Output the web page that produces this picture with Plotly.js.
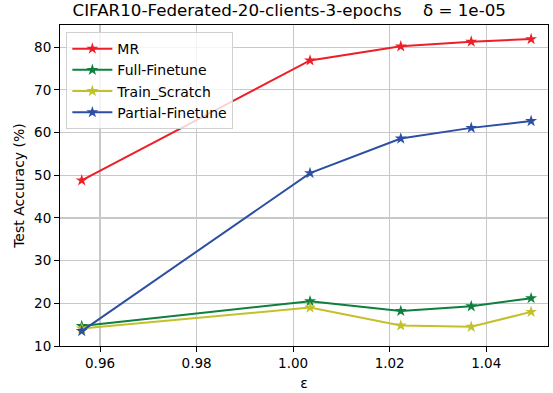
<!DOCTYPE html>
<html><head><meta charset="utf-8">
<script src="https://cdn.plot.ly/plotly-3.0.1.min.js"></script>
<style>html,body{margin:0;padding:0;background:#fff}#chart{width:553px;height:393px}</style>
</head><body><div id="chart"></div>
<script>
const epsilon = [0.9562, 1.0035, 1.0223, 1.0369, 1.0493];
const mr = [48.8, 76.9, 80.2, 81.3, 81.9];
const fullFinetune = [14.7, 20.5, 18.2, 19.3, 21.2];
const trainScratch = [14.1, 19.0, 14.8, 14.5, 18.0];
const partialFinetune = [13.5, 50.5, 58.6, 61.1, 62.7];
const seriesNames = ["MR", "Full-Finetune", "Train_Scratch", "Partial-Finetune"];
const colors = ["#ec1f28", "#0e7f3e", "#c2c12c", "#2c4fa3"];
const ys = [mr, fullFinetune, trainScratch, partialFinetune];
const xTicks = [0.96, 0.98, 1.00, 1.02, 1.04];
const xTickText = ["0.96", "0.98", "1.00", "1.02", "1.04"];
const yTicks = [10, 20, 30, 40, 50, 60, 70, 80];

const traces = ys.map((y, i) => ({
  x: epsilon, y: y, name: seriesNames[i], type: "scatter", mode: "lines+markers",
  line: {color: colors[i], width: 2},
  marker: {symbol: "star", size: 9, color: colors[i], line: {width: 0}}
}));

const layout = {
  width: 553, height: 393,
  margin: {l: 60, r: 5, t: 25, b: 47},
  paper_bgcolor: "#fff", plot_bgcolor: "#fff",
  font: {family: "DejaVu Sans", size: 14, color: "#000"},
  title: {text: "CIFAR10-Federated-20-clients-3-epochs    δ = 1e-05", x: 0.523, xanchor: "center", y: 0.988, yanchor: "top", font: {size: 16.7, family: "DejaVu Sans"}},
  xaxis: {
    range: [0.9517, 1.0528], tickvals: xTicks, ticktext: xTickText,
    showgrid: true, gridcolor: "#c8c8c8", gridwidth: 1.2,
    showline: true, linecolor: "#000", linewidth: 1, mirror: true,
    ticks: "outside", ticklen: 5, tickcolor: "#000", zeroline: false,
    tickfont: {size: 13.5},
    title: {text: "ε", font: {size: 14}, standoff: 7}
  },
  yaxis: {
    range: [10, 85.2], tickvals: yTicks,
    showgrid: true, gridcolor: "#c8c8c8", gridwidth: 1.2,
    showline: true, linecolor: "#000", linewidth: 1, mirror: true,
    ticks: "outside", ticklen: 5, tickcolor: "#000", zeroline: false,
    tickfont: {size: 13.5},
    title: {text: "Test Accuracy (%)", font: {size: 14}, standoff: 6}
  },
  legend: {x: 0.013, y: 0.978, xanchor: "left", yanchor: "top", bgcolor: "rgba(255,255,255,0.8)", bordercolor: "#d0d0d0", borderwidth: 1, font: {size: 14}, tracegroupgap: 0, itemwidth: 40},
  showlegend: true
};
Plotly.newPlot("chart", traces, layout, {displayModeBar: false, staticPlot: true});
</script></body></html>
